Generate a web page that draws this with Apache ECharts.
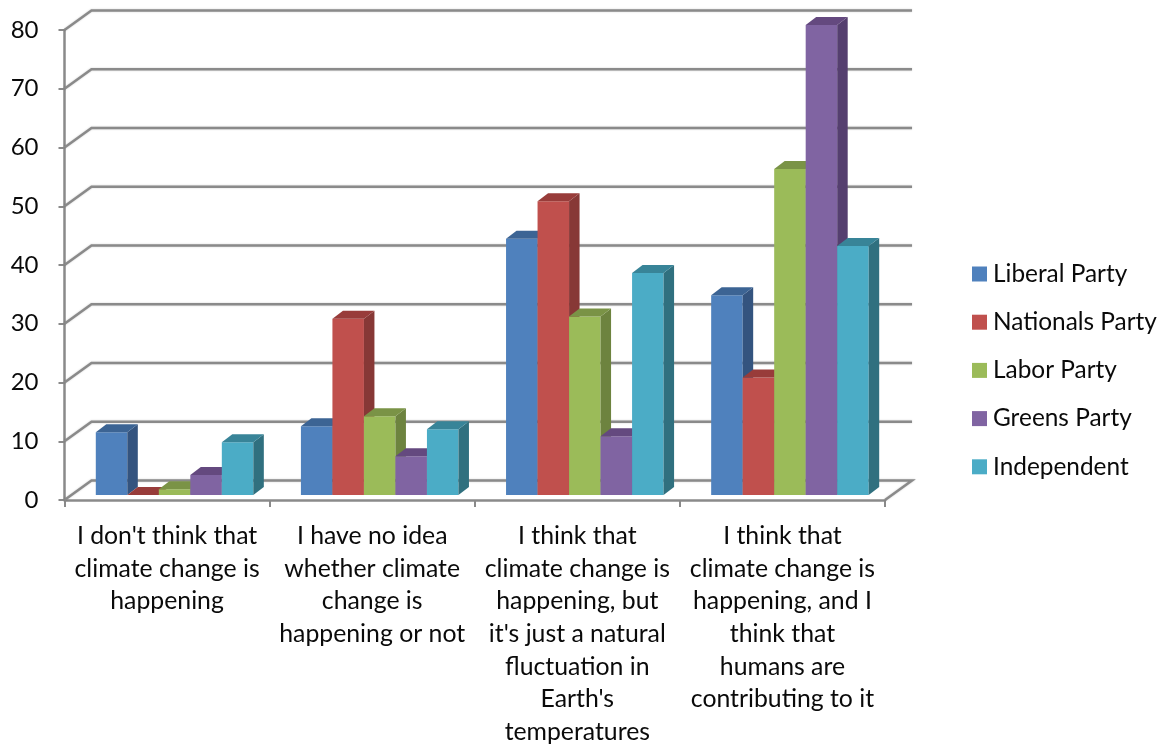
<!DOCTYPE html>
<html>
<head>
<meta charset="utf-8">
<title>Climate change views by party</title>
<script src="https://cdn.jsdelivr.net/npm/echarts@6/dist/echarts.min.js"></script>
<style>
  html, body { margin: 0; padding: 0; background: #fff; }
  #chart { width: 1166px; height: 744px; }
</style>
</head>
<body>
<div id="chart"></div>
<script>
const categories = [
  "I don't think that\nclimate change is\nhappening",
  "I have no idea\nwhether climate\nchange is\nhappening or not",
  "I think that\nclimate change is\nhappening, but\nit's just a natural\nfluctuation in\nEarth's\ntemperatures",
  "I think that\nclimate change is\nhappening, and I\nthink that\nhumans are\ncontributing to it"
];
const liberal = [10.7, 11.7, 43.6, 34];
const nationals = [0, 30, 50, 20];
const labor = [1, 13.4, 30.4, 55.5];
const greens = [3.4, 6.6, 10, 80];
const independent = [9, 11.2, 37.8, 42.4];
const gridValues = [0, 10, 20, 30, 40, 50, 60, 70, 80];

const partySeries = [
  { name: 'Liberal Party', values: liberal, front: '#4F81BD', side: '#34547F', top: '#3C6494' },
  { name: 'Nationals Party', values: nationals, front: '#C0504D', side: '#873836', top: '#983C3A' },
  { name: 'Labor Party', values: labor, front: '#9BBB59', side: '#6D833F', top: '#7A9346' },
  { name: 'Greens Party', values: greens, front: '#8064A2', side: '#553F6F', top: '#64497F' },
  { name: 'Independent', values: independent, front: '#4BACC6', side: '#30707F', top: '#388498' }
];

const gridColor = '#8A8A8A';
const textColor = '#0A0A0A';
const fontFamily = 'Lato, sans-serif';

// 3D look: how far the back wall and the bars sit behind the front plane
const wallDx = 27, wallDy = -19.5;
const barShiftX = 7.5, barShiftY = -5;
const barDx = 10.5, barDy = -8;
const barShare = 0.1536;

function renderWall(params, api) {
  const cs = params.coordSys;
  const y = api.coord([0, api.value(0)])[1];
  const x0 = cs.x, x1 = cs.x + cs.width;
  const points = [[x0, y], [x0 + wallDx, y + wallDy], [x1 + wallDx, y + wallDy]];
  // floor closes on the right
  if (api.value(0) === 0) points.push([x1, y]);
  return {
    type: 'polyline',
    shape: { points: points },
    style: { stroke: gridColor, lineWidth: 2.5, fill: null, shadowColor: 'rgba(0,0,0,0.2)', shadowBlur: 2 }
  };
}

function makeBarRenderer(index, party) {
  return function (params, api) {
    const base = api.coord([api.value(0), 0]);
    const top = api.coord([api.value(0), api.value(1)]);
    const w = api.size([1, 0])[0] * barShare;
    const x = base[0] + barShiftX + (index - 2.5) * w;
    const yb = base[1] + barShiftY;
    const yt = top[1] + barShiftY;
    return {
      type: 'group',
      children: [
        { type: 'polygon', shape: { points: [[x, yt], [x + w, yt], [x + w, yb], [x, yb]] }, style: { fill: party.front } },
        { type: 'polygon', shape: { points: [[x + w, yt], [x + w + barDx, yt + barDy], [x + w + barDx, yb + barDy], [x + w, yb]] }, style: { fill: party.side } },
        { type: 'polygon', shape: { points: [[x, yt], [x + w, yt], [x + w + barDx, yt + barDy], [x + barDx, yt + barDy]] }, style: { fill: party.top } }
      ]
    };
  };
}

const series = [{
  type: 'custom',
  name: 'walls',
  silent: true,
  z: 1,
  data: gridValues.map(v => [v]),
  encode: { y: 0 },
  renderItem: renderWall
}];

partySeries.forEach((party, i) => {
  series.push({
    type: 'custom',
    name: party.name,
    z: 3 + i,
    itemStyle: { color: party.front },
    data: party.values.map((v, c) => [c, v]),
    encode: { x: 0, y: 1 },
    renderItem: makeBarRenderer(i, party)
  });
});

const chart = echarts.init(document.getElementById('chart'), null, { renderer: 'canvas' });
chart.setOption({
  animation: false,
  backgroundColor: '#fff',
  textStyle: { fontFamily: fontFamily },
  grid: { left: 64.5, top: 30, width: 820.5, height: 470, outerBoundsMode: 'none' },
  legend: {
    orient: 'vertical',
    left: 972,
    top: 260,
    padding: 0,
    itemWidth: 15,
    itemHeight: 15,
    itemGap: 20.2,
    icon: 'rect',
    selectedMode: false,
    data: partySeries.map(p => p.name),
    textStyle: { fontFamily: fontFamily, fontSize: 24.4, lineHeight: 28, color: textColor, padding: [0, 0, 0, 1] }
  },
  xAxis: {
    type: 'category',
    data: categories,
    axisLine: { lineStyle: { color: gridColor, width: 2.5 } },
    axisTick: { show: true, length: 7, lineStyle: { color: gridColor, width: 2 } },
    axisLabel: { interval: 0, margin: 19.5, fontFamily: fontFamily, fontSize: 24.8, lineHeight: 32.7, color: textColor },
    splitLine: { show: false }
  },
  yAxis: {
    type: 'value',
    min: 0,
    max: 80,
    interval: 10,
    axisLine: { show: true, lineStyle: { color: gridColor, width: 2.5 } },
    axisTick: { show: true, length: 6, lineStyle: { color: gridColor, width: 2 } },
    axisLabel: { margin: 26, fontFamily: fontFamily, fontSize: 24, color: textColor },
    splitLine: { show: false }
  },
  series: series
});
</script>
</body>
</html>
